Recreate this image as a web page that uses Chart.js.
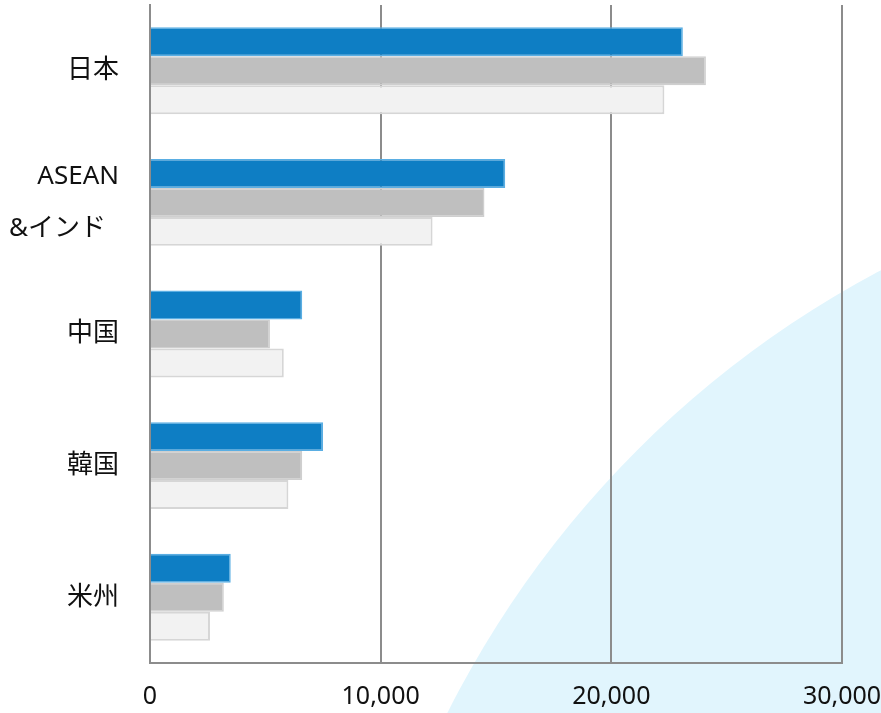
<!DOCTYPE html>
<html lang="ja">
<head>
<meta charset="utf-8">
<title>地域別</title>
<script src="https://cdn.jsdelivr.net/npm/chart.js@4/dist/chart.umd.min.js"></script>
<style>
    html, body { margin: 0; padding: 0; background: #fff; }
    #wrap { width: 881px; height: 713px; }
</style>
</head>
<body>
<div id="wrap"><canvas id="regions" width="881" height="713"></canvas></div>
<script>
{
    const REGIONS = ['日本', ['ASEAN', '&インド\u2002'], '中国', '韓国', '米州'];
    const SERIES_A = [23100, 15400, 6600, 7500, 3500];
    const SERIES_B = [24100, 14500, 5200, 6600, 3200];
    const SERIES_C = [22300, 12250, 5800, 6000, 2600];
    const X_TICKS = [0, 10000, 20000, 30000];

    const GRID = '#8c8c8c';

    // pale blue sweep behind the plot
    const backdrop = {
        id: 'backdrop',
        beforeDraw(chart) {
            const ctx = chart.ctx;
            ctx.save();
            ctx.fillStyle = '#e1f5fd';
            ctx.beginPath();
            ctx.arc(1357, 1170, 1018, 0, Math.PI * 2);
            ctx.fill();
            ctx.restore();
        }
    };

    document.addEventListener('DOMContentLoaded', () => {
        new Chart(document.getElementById('regions'), {
            type: 'bar',
            data: {
                labels: REGIONS,
                datasets: [
                    { data: SERIES_A, backgroundColor: '#0e7ec4', borderColor: '#5aaee3', borderWidth: 1.5 },
                    { data: SERIES_B, backgroundColor: '#bfbfbf', borderColor: '#cfcfcf', borderWidth: 1.5 },
                    { data: SERIES_C, backgroundColor: '#f2f2f2', borderColor: '#d6d6d6', borderWidth: 2 }
                ]
            },
            options: {
                indexAxis: 'y',
                responsive: false,
                animation: false,
                categoryPercentage: 0.66,
                barPercentage: 1,
                layout: { padding: { top: 5, left: 0, right: 0, bottom: 0 } },
                plugins: {
                    legend: { display: false },
                    tooltip: { enabled: false }
                },
                scales: {
                    x: {
                        min: 0,
                        max: 30000,
                        afterBuildTicks: scale => {
                            scale.ticks = X_TICKS.map(v => ({ value: v }));
                        },
                        afterFit: scale => {
                            scale.height = 50;
                            scale.paddingLeft = 0;
                            scale.paddingRight = 39;
                        },
                        grid: { color: GRID, lineWidth: 2, drawTicks: false },
                        border: { color: GRID, width: 2 },
                        ticks: {
                            padding: 19,
                            color: '#111',
                            font: { family: '"Noto Sans", sans-serif', size: 25 },
                            callback: v => v.toLocaleString('en-US')
                        }
                    },
                    y: {
                        afterFit: scale => {
                            scale.width = 150;
                            scale.paddingTop = 0;
                            scale.paddingBottom = 0;
                        },
                        grid: { display: false, drawTicks: false },
                        border: { color: GRID, width: 2 },
                        ticks: {
                            padding: 31,
                            color: '#111',
                            font: { family: '"Noto Sans", "Noto Sans CJK JP", sans-serif', size: 26, lineHeight: 2 }
                        }
                    }
                }
            },
            plugins: [backdrop]
        });
    });
}
</script>
</body>
</html>
